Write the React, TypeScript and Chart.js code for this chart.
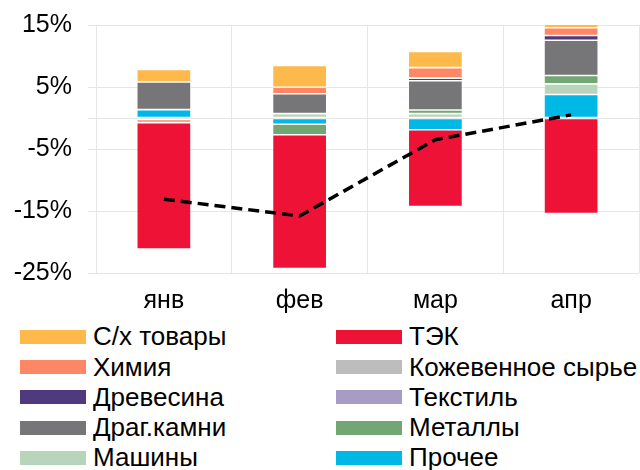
import React, { useEffect, useRef } from 'react';
import { Chart, registerables } from 'chart.js';

Chart.register(...registerables);

const categories = ['янв', 'фев', 'мар', 'апр'];

const agri = [2.05, 3.5, 2.6, 1.5];
const fuel = [-20.4, -21.6, -12.4, -15.4];
const chem = [-0.5, 1.07, 1.7, 1.25];
const leather = [0, 0, 0, 0];
const wood = [-0.15, 0, 0.43, 0.75];
const textile = [-0.1, 0, 0, 0];
const gems = [4.45, 3.2, 4.7, 5.7];
const metals = [0, -1.7, 0.6, 1.35];
const machines = [0, 0.7, 0.7, 1.7];
const other = [1.35, -1.0, -1.9, 3.8];
const total = [-13.1, -15.8, -3.5, 0.5];

const yTicks = [-25, -15, -5, 0, 5, 15];

// legend order (row-wise, two columns)
const series = [
  { label: 'С/х товары', data: agri, color: '#FDB94A' },
  { label: 'ТЭК', data: fuel, color: '#EE1237' },
  { label: 'Химия', data: chem, color: '#FF8766' },
  { label: 'Кожевенное сырье', data: leather, color: '#BDBDBD' },
  { label: 'Древесина', data: wood, color: '#4F3A7F' },
  { label: 'Текстиль', data: textile, color: '#A79CC4' },
  { label: 'Драг.камни', data: gems, color: '#767679' },
  { label: 'Металлы', data: metals, color: '#72A672' },
  { label: 'Машины', data: machines, color: '#B8D4BA' },
  { label: 'Прочее', data: other, color: '#00B8E6' },
];

const FONT = "'Liberation Sans', Arial, sans-serif";
const GRID = '#e6e6e6';

export default function App() {
  const ref = useRef<HTMLCanvasElement>(null);

  useEffect(() => {
    if (!ref.current) return;
    const barSets = [...series].reverse().map((s) => ({
      type: 'bar' as const,
      label: s.label,
      data: s.data,
      backgroundColor: s.color,
      borderColor: 'rgba(255,255,255,0.85)',
      borderWidth: 0.8,
      borderSkipped: false as const,
      categoryPercentage: 0.4,
      barPercentage: 1,
      order: 1,
    }));
    const chart = new Chart(ref.current, {
      type: 'bar',
      data: {
        labels: categories,
        datasets: [
          ...barSets,
          {
            type: 'line' as const,
            label: 'Итого',
            data: total,
            borderColor: '#000',
            borderWidth: 3.5,
            borderDash: [11, 6],
            pointRadius: 0,
            fill: false,
            tension: 0,
            stack: 'total',
            order: 0,
          } as any,
        ],
      },
      options: {
        animation: false,
        responsive: false,
        layout: { padding: { top: 25, right: 1, bottom: 0, left: 0 } },
        plugins: { legend: { display: false }, tooltip: { enabled: false } },
        scales: {
          x: {
            stacked: true,
            offset: true,
            grid: { display: true, color: GRID, offset: true, drawTicks: false },
            border: { display: false },
            ticks: { color: '#000', font: { family: FONT, size: 25 }, padding: 13 },
            afterFit: (s: any) => {
              s.height = 47;
              s.paddingLeft = 0;
              s.paddingRight = 0;
            },
          },
          y: {
            stacked: true,
            min: -25,
            max: 15,
            afterBuildTicks: (s: any) => {
              s.ticks = yTicks.map((v) => ({ value: v }));
            },
            grid: { color: GRID, tickLength: 8 },
            border: { display: true, color: GRID },
            ticks: {
              color: '#000',
              font: { family: FONT, size: 25 },
              padding: 16,
              callback: (v: any) => (Number(v) === 0 ? '' : v + '%'),
            },
            afterFit: (s: any) => {
              s.width = 96;
              s.paddingTop = 0;
              s.paddingBottom = 0;
            },
          },
        },
      },
    });
    return () => chart.destroy();
  }, []);

  return (
    <div style={{ position: 'relative', width: 640, height: 470, background: '#fff' }}>
      <style>{`body{margin:0}`}</style>
      <canvas ref={ref} width={640} height={320} style={{ display: 'block' }} />
      {series.map((s, i) => {
        const col = i % 2;
        const row = Math.floor(i / 2);
        const cy = 336.7 + row * 30.3;
        const left = col === 0 ? 20 : 336;
        return (
          <div
            key={s.label}
            style={{
              position: 'absolute',
              left,
              top: cy - 15,
              height: 30,
              display: 'flex',
              alignItems: 'center',
              whiteSpace: 'nowrap',
              fontFamily: FONT,
              fontSize: 26,
              color: '#000',
            }}
          >
            <span style={{ display: 'inline-block', width: 66, height: 14, background: s.color, marginRight: 7 }} />
            <span>{s.label}</span>
          </div>
        );
      })}
    </div>
  );
}
